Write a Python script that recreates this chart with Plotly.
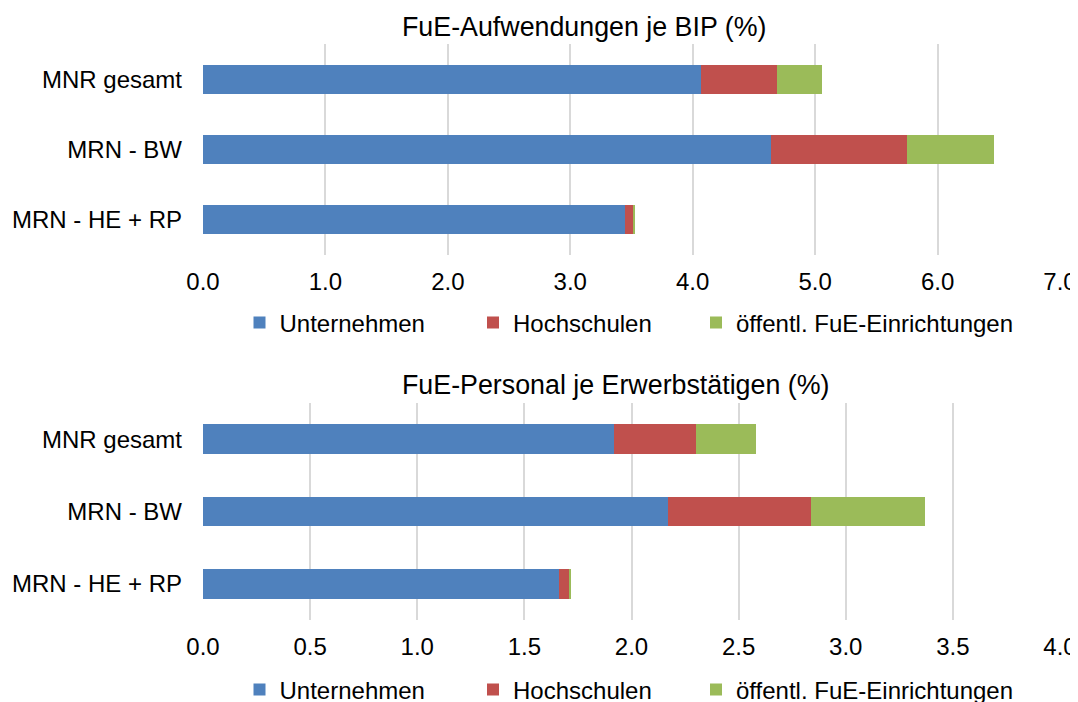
import plotly.graph_objects as go

categories = ["MNR gesamt", "MRN - BW", "MRN - HE + RP"]
series_names = ["Unternehmen", "Hochschulen", "öffentl. FuE-Einrichtungen"]
colors = ["#4F81BD", "#C0504D", "#9BBB59"]

# FuE-Aufwendungen je BIP (%)
top_unternehmen = [4.07, 4.64, 3.45]
top_hochschulen = [0.62, 1.11, 0.07]
top_oeffentl = [0.37, 0.71, 0.01]

# FuE-Personal je Erwerbstätigen (%)
bot_unternehmen = [1.92, 2.17, 1.66]
bot_hochschulen = [0.38, 0.67, 0.05]
bot_oeffentl = [0.28, 0.53, 0.005]

top_title = "FuE-Aufwendungen je BIP (%)"
bot_title = "FuE-Personal je Erwerbstätigen (%)"

FONT = "Liberation Sans, Arial, sans-serif"
FS = 24
FS_TITLE = 26.8
# page body has an 8px margin
W, H = 1070, 694
OFF = 8


def px(v):
    return (v - OFF) / W


def py(v):
    return 1 - (v - OFF) / H


fig = go.Figure()
top_vals = [top_unternehmen, top_hochschulen, top_oeffentl]
bot_vals = [bot_unternehmen, bot_hochschulen, bot_oeffentl]
top_legends = ["legend", "legend2", "legend3"]
bot_legends = ["legend4", "legend5", "legend6"]
for name, col, vals, lg in zip(series_names, colors, top_vals, top_legends):
    fig.add_trace(go.Bar(y=categories, x=vals, name=name, orientation="h",
                         marker=dict(color=col, line=dict(width=0)),
                         xaxis="x", yaxis="y", legend=lg))
for name, col, vals, lg in zip(series_names, colors, bot_vals, bot_legends):
    fig.add_trace(go.Bar(y=categories, x=vals, name=name, orientation="h",
                         marker=dict(color=col, line=dict(width=0)),
                         xaxis="x2", yaxis="y2", legend=lg))

xdom = [px(203), px(1060)]
common_x = dict(showgrid=True, gridcolor="#D9D9D9", gridwidth=2, zeroline=False,
                showline=False, ticks="", automargin=False, ticklabeloverflow="allow",
                tickfont=dict(size=FS, color="#000000", family=FONT),
                tickformat=".1f", ticklabelstandoff=10, domain=xdom, fixedrange=True)
common_y = dict(showgrid=False, zeroline=False, showline=False, ticks="", automargin=False,
                autorange="reversed", type="category",
                tickfont=dict(size=FS, color="#000000", family=FONT),
                ticklabelstandoff=20, fixedrange=True)

legend_sym_x = [258.5, 492, 715]
legend_cfg = {}
for i, lg in enumerate(top_legends):
    legend_cfg[lg] = dict(orientation="h", x=px(legend_sym_x[i] - 19), xanchor="left",
                          y=py(323), yanchor="middle",
                          font=dict(size=FS, family=FONT, color="#000000"),
                          bgcolor="rgba(0,0,0,0)")
for i, lg in enumerate(bot_legends):
    legend_cfg[lg] = dict(orientation="h", x=px(legend_sym_x[i] - 19), xanchor="left",
                          y=py(690), yanchor="middle",
                          font=dict(size=FS, family=FONT, color="#000000"),
                          bgcolor="rgba(0,0,0,0)")

fig.update_layout(
    template="none",
    width=W, height=H,
    margin=dict(l=0, r=0, t=0, b=0, autoexpand=False),
    paper_bgcolor="white", plot_bgcolor="white",
    barmode="stack", bargap=0.59,
    font=dict(family=FONT, size=FS, color="#000000"),
    xaxis=dict(range=[0, 7], dtick=1, anchor="y", **common_x),
    yaxis=dict(domain=[py(255), py(44)], anchor="x", **common_y),
    xaxis2=dict(range=[0, 4], dtick=0.5, anchor="y2", **common_x),
    yaxis2=dict(domain=[py(620), py(403)], anchor="x2", **common_y),
    annotations=[
        dict(text=top_title, x=px(584), y=py(27), xref="paper", yref="paper",
             xanchor="center", yanchor="middle", showarrow=False,
             font=dict(size=FS_TITLE, family=FONT, color="#000000")),
        dict(text=bot_title, x=px(615), y=py(385), xref="paper", yref="paper",
             xanchor="center", yanchor="middle", showarrow=False,
             font=dict(size=FS_TITLE, family=FONT, color="#000000")),
    ],
    showlegend=True,
    **legend_cfg,
)

fig.write_html("out.html")
